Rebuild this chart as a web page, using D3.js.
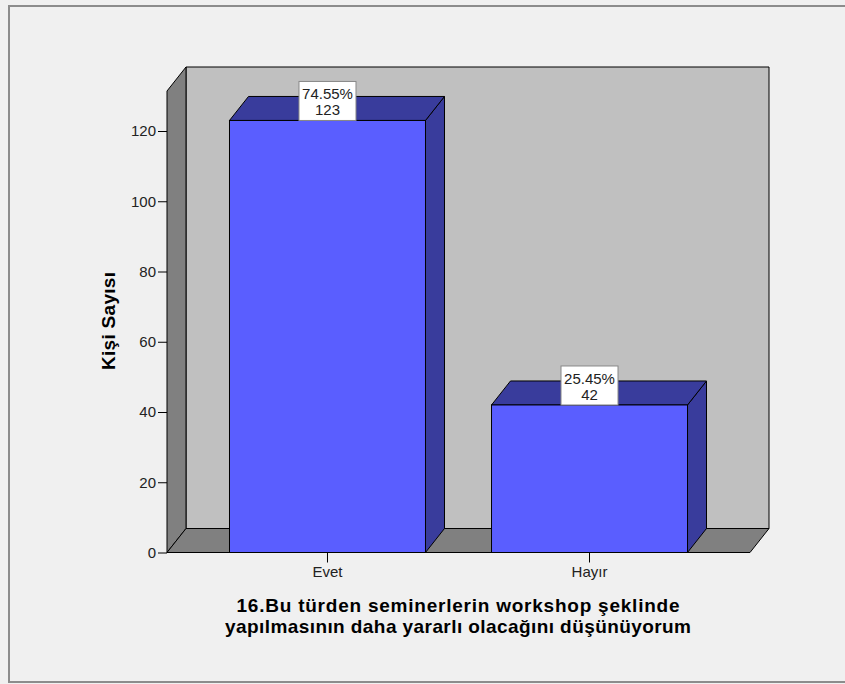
<!DOCTYPE html>
<html>
<head>
<meta charset="utf-8">
<script src="https://cdn.jsdelivr.net/npm/d3@7/dist/d3.min.js"></script>
<style>
  html, body { margin: 0; padding: 0; background: #f0f0f0; }
  svg { display: block; }
  text { font-family: "Liberation Sans", Arial, sans-serif; }
</style>
</head>
<body>
<svg id="chart" width="845" height="684"></svg>
<script>
// ---- data ----
const categories = ["Evet", "Hayır"];
const counts = [123, 42];
const percents = ["74.55%", "25.45%"];
const yTicks = [0, 20, 40, 60, 80, 100, 120];
const xTitle = ["16.Bu türden seminerlerin workshop şeklinde", "yapılmasının daha yararlı olacağını düşünüyorum"];
const yTitle = "Kişi Sayısı";

// ---- layout ----
const W = 845, H = 684;
const pLeft = 167, pRight = 750, pBottom = 552.5, pTop = 91;
const dx = 19, dy = -24;
const titleWidths = [443, 466];

const svg = d3.select("#chart");

// background & frame
svg.append("rect").attr("x", 0).attr("y", 0).attr("width", W).attr("height", H).attr("fill", "#f0f0f0");
svg.append("rect").attr("x", 9).attr("y", 6).attr("width", W + 20).attr("height", 676)
  .attr("fill", "#f0f0f0").attr("stroke", "#8c8c8c").attr("stroke-width", 2);

const x = d3.scaleBand().domain(categories).range([pLeft, pRight])
  .paddingInner(0.252).paddingOuter(0.2385);
const y = d3.scaleLinear().domain([0, 120]).range([pBottom, 131]);

const line = d3.line();

// back wall
svg.append("path")
  .attr("d", line([[pLeft + dx, pTop + dy], [pRight + dx, pTop + dy], [pRight + dx, pBottom + dy], [pLeft + dx, pBottom + dy]]) + "Z")
  .attr("fill", "#c0c0c0").attr("stroke", "#000").attr("stroke-width", 1);
// left wall
svg.append("path")
  .attr("d", line([[pLeft, pTop], [pLeft + dx, pTop + dy], [pLeft + dx, pBottom + dy], [pLeft, pBottom]]) + "Z")
  .attr("fill", "#808080").attr("stroke", "#000").attr("stroke-width", 1);
// floor
svg.append("path")
  .attr("d", line([[pLeft, pBottom], [pLeft + dx, pBottom + dy], [pRight + dx, pBottom + dy], [pRight, pBottom]]) + "Z")
  .attr("fill", "#808080").attr("stroke", "#000").attr("stroke-width", 1);

const data = categories.map((c, i) => ({ c, v: counts[i], p: percents[i] }));

const bars = svg.append("g").selectAll("g").data(data).join("g");
bars.each(function (d) {
  const g = d3.select(this);
  const x0 = x(d.c), x1 = x(d.c) + x.bandwidth(), yt = y(d.v);
  // side
  g.append("path")
    .attr("d", line([[x1, yt], [x1 + dx, yt + dy], [x1 + dx, pBottom + dy], [x1, pBottom]]) + "Z")
    .attr("fill", "#393c9c").attr("stroke", "#000").attr("stroke-width", 1);
  // top
  g.append("path")
    .attr("d", line([[x0, yt], [x0 + dx, yt + dy], [x1 + dx, yt + dy], [x1, yt]]) + "Z")
    .attr("fill", "#393c9c").attr("stroke", "#000").attr("stroke-width", 1);
  // front
  g.append("rect").attr("x", x0).attr("y", yt).attr("width", x1 - x0).attr("height", pBottom - yt)
    .attr("fill", "#5a5eff").attr("stroke", "#000").attr("stroke-width", 1);
  // label box
  const cx = x0 + x.bandwidth() / 2;
  const bw = 57, bh = 39;
  g.append("rect").attr("x", cx - bw / 2).attr("y", yt - bh).attr("width", bw).attr("height", bh)
    .attr("fill", "#fff").attr("stroke", "#888").attr("stroke-width", 1);
  g.append("text").attr("x", cx).attr("y", yt - bh + 18).attr("text-anchor", "middle")
    .attr("font-size", 15).attr("fill", "#222").text(d.p);
  g.append("text").attr("x", cx).attr("y", yt - bh + 34).attr("text-anchor", "middle")
    .attr("font-size", 15).attr("fill", "#222").text(d.v);
});

// y axis
const yAxis = svg.append("g").attr("transform", `translate(${pLeft},0)`)
  .call(d3.axisLeft(y).tickValues(yTicks).tickSize(9).tickPadding(2).tickFormat(d3.format("d")));
yAxis.select(".domain").remove();
yAxis.selectAll("line").attr("stroke", "#000");
yAxis.selectAll("text").attr("font-size", 15).attr("fill", "#222")
  .style("font-family", "'Liberation Sans', Arial, sans-serif");

// x axis
const xAxis = svg.append("g").attr("transform", `translate(0,${pBottom})`)
  .call(d3.axisBottom(x).tickSize(10).tickPadding(4));
xAxis.select(".domain").remove();
xAxis.selectAll("line").attr("stroke", "#000");
xAxis.selectAll("text").attr("font-size", 15).attr("fill", "#222")
  .style("font-family", "'Liberation Sans', Arial, sans-serif");

// axis titles
svg.append("text").attr("transform", "translate(115,321) rotate(-90)")
  .attr("text-anchor", "middle").attr("font-size", 19).attr("font-weight", "bold").attr("fill", "#000")
  .attr("textLength", 98).attr("lengthAdjust", "spacing")
  .text(yTitle);
svg.append("g").selectAll("text").data(xTitle).join("text")
  .attr("x", 458).attr("y", (d, i) => 612 + i * 21).attr("text-anchor", "middle")
  .attr("font-size", 19).attr("font-weight", "bold").attr("fill", "#000")
  .attr("textLength", (d, i) => titleWidths[i]).attr("lengthAdjust", "spacing")
  .text(d => d);
</script>
</body>
</html>
